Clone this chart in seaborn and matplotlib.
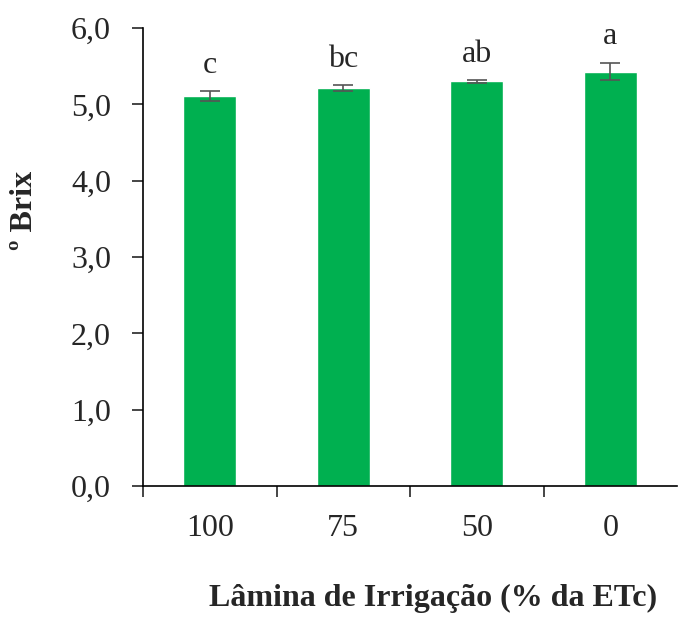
import matplotlib
matplotlib.use("Agg")
import matplotlib.pyplot as plt
import seaborn as sns
import pandas as pd
import numpy as np
from matplotlib.ticker import FixedLocator, NullFormatter

categories = ["100", "75", "50", "0"]
brix = [5.11, 5.21, 5.30, 5.43]
errors = [0.065, 0.04, 0.02, 0.115]
letters = ["c", "bc", "ab", "a"]
yticks = [0.0, 1.0, 2.0, 3.0, 4.0, 5.0, 6.0]
ytick_labels = ["0,0", "1,0", "2,0", "3,0", "4,0", "5,0", "6,0"]

sns.set_style("white")
plt.rcParams['font.family'] = ['Liberation Serif', 'DejaVu Serif']

df = pd.DataFrame({"lamina": categories, "brix": brix})

fig = plt.figure(figsize=(6.85, 6.17), dpi=100)
ax = fig.add_axes([143/685, 1 - 486/617, (677-143)/685, (486-28)/617])

sns.barplot(data=df, x="lamina", y="brix", order=categories, color="#00B050",
            saturation=1, width=0.4, errorbar=None, ax=ax)
ax.errorbar(np.arange(len(categories)), brix, yerr=errors, fmt="none",
            ecolor="#555555", elinewidth=1.2, capsize=7, capthick=1.2)

for i, (v, e, t) in enumerate(zip(brix, errors, letters)):
    ax.text(i, v + e + 0.24, t, ha="center", va="baseline", fontsize=23)

ax.set_xlim(-0.5, 3.5)
ax.set_ylim(0, 6.0)
ax.set_yticks(yticks)
ax.set_yticklabels(ytick_labels, fontsize=23)
ax.tick_params(axis="y", direction="out", length=8, width=1.2, left=True, pad=15)

ax.xaxis.set_major_locator(FixedLocator([-0.5, 0.5, 1.5, 2.5]))
ax.xaxis.set_major_formatter(NullFormatter())
ax.set_xticks(np.arange(len(categories)), minor=True)
ax.set_xticklabels(categories, minor=True, fontsize=23)
ax.tick_params(axis="x", which="major", direction="out", length=8, width=1.2, bottom=True)
ax.tick_params(axis="x", which="minor", length=0, pad=20)

for s in ["top", "right"]:
    ax.spines[s].set_visible(False)
for s in ["left", "bottom"]:
    ax.spines[s].set_color("black")
    ax.spines[s].set_linewidth(1.2)

ax.set_xlabel("")
ax.set_ylabel("")
fig.text(433/685, 1 - 598/617, "Lâmina de Irrigação (% da ETc)", ha="center", va="center",
         fontsize=23, fontweight="bold")
fig.text(25/685, 1 - 210/617, "º Brix", ha="center", va="center", rotation=90,
         fontsize=23, fontweight="bold")

fig.savefig("out.png", dpi=100)
